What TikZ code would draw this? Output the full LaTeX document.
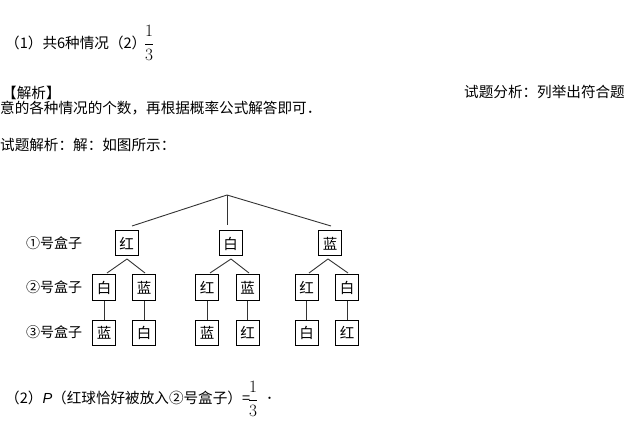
\documentclass[tikz,border=0pt]{standalone}
\usepackage{amsmath}
\usepackage{fontspec}
\setmainfont{Noto Sans CJK SC}
\newfontfamily\latinsans{Liberation Sans}
\begin{document}
\begin{tikzpicture}[x=1pt,y=-1pt,
  txt/.style={anchor=west,inner sep=0pt,font=\fontsize{14.6}{16}\selectfont},
  lbl/.style={anchor=west,inner sep=0pt,font=\fontsize{14}{16}\selectfont},
  box/.style={draw,line width=1pt,minimum width=23pt,minimum height=25pt,inner sep=0pt,font=\fontsize{14.5}{16}\selectfont},
  frac/.style={inner sep=0pt,font=\fontsize{19}{20}\selectfont},
  edge/.style={line width=0.9pt,draw=black!80}]
\useasboundingbox (0,0) rectangle (630,441);
% header
\node[txt] (t1) at (5,43) {（1）共6种情况（2）};
\node[frac] (f1) at (149,43) {$\dfrac{1}{3}$};
\node[txt] (t2) at (2,93) {【解析】};
\node[txt,anchor=east] (t3) at (625,92) {试题分析：列举出符合题};
\node[txt] (t4) at (0,108) {意的各种情况的个数，再根据概率公式解答即可．};
\node[txt] (t5) at (0,145) {试题解析：解：如图所示：};
% row labels
\node[lbl] (r1) at (26,243.5) {①号盒子};
\node[lbl] (r2) at (26,287.5) {②号盒子};
\node[lbl] (r3) at (26,332.5) {③号盒子};
% tree
\coordinate (top) at (227,195);
\coordinate (ea) at (132,226);
\coordinate (eb) at (227,225);
\coordinate (ec) at (331,226);
\node[box] (A) at (126.5,243.5) {红};
\node[box] (B) at (230.5,243.5) {白};
\node[box] (C) at (330,243.5) {蓝};
\draw[edge] (top) -- (ea);
\draw[edge] (top) -- (eb);
\draw[edge] (top) -- (ec);
\node[box] (A1) at (104,287.5) {白};
\node[box] (A2) at (144,287.5) {蓝};
\node[box] (B1) at (207,287.5) {红};
\node[box] (B2) at (247.5,287.5) {蓝};
\node[box] (C1) at (306.5,287.5) {红};
\node[box] (C2) at (347,287.5) {白};
\node[box] (A1b) at (104,332.5) {蓝};
\node[box] (A2b) at (144,332.5) {白};
\node[box] (B1b) at (207,332.5) {蓝};
\node[box] (B2b) at (247.5,332.5) {红};
\node[box] (C1b) at (306.5,332.5) {白};
\node[box] (C2b) at (347,332.5) {红};
\coordinate (As) at (127,259);
\coordinate (Bs) at (231,259);
\coordinate (Cs) at (328,259);
\coordinate (A1t) at (107,273);
\coordinate (A2t) at (145,273);
\coordinate (B1t) at (210,273);
\coordinate (B2t) at (249,273);
\coordinate (C1t) at (309,273);
\coordinate (C2t) at (348,273);
\draw[edge] (As) -- (A1t);
\draw[edge] (As) -- (A2t);
\draw[edge] (Bs) -- (B1t);
\draw[edge] (Bs) -- (B2t);
\draw[edge] (Cs) -- (C1t);
\draw[edge] (Cs) -- (C2t);
\draw[edge] (A1.south) -- (A1b.north);
\draw[edge] (A2.south) -- (A2b.north);
\draw[edge] (B1.south) -- (B1b.north);
\draw[edge] (B2.south) -- (B2b.north);
\draw[edge] (C1.south) -- (C1b.north);
\draw[edge] (C2.south) -- (C2b.north);
% bottom
\node[txt] (b1) at (5,398) {（2）{\latinsans\itshape P}（红球恰好被放入②号盒子）=};
\node[frac] (f2) at (253,399) {$\dfrac{1}{3}$};
\node[txt] (b2) at (266,398) {．};
\end{tikzpicture}
\end{document}
